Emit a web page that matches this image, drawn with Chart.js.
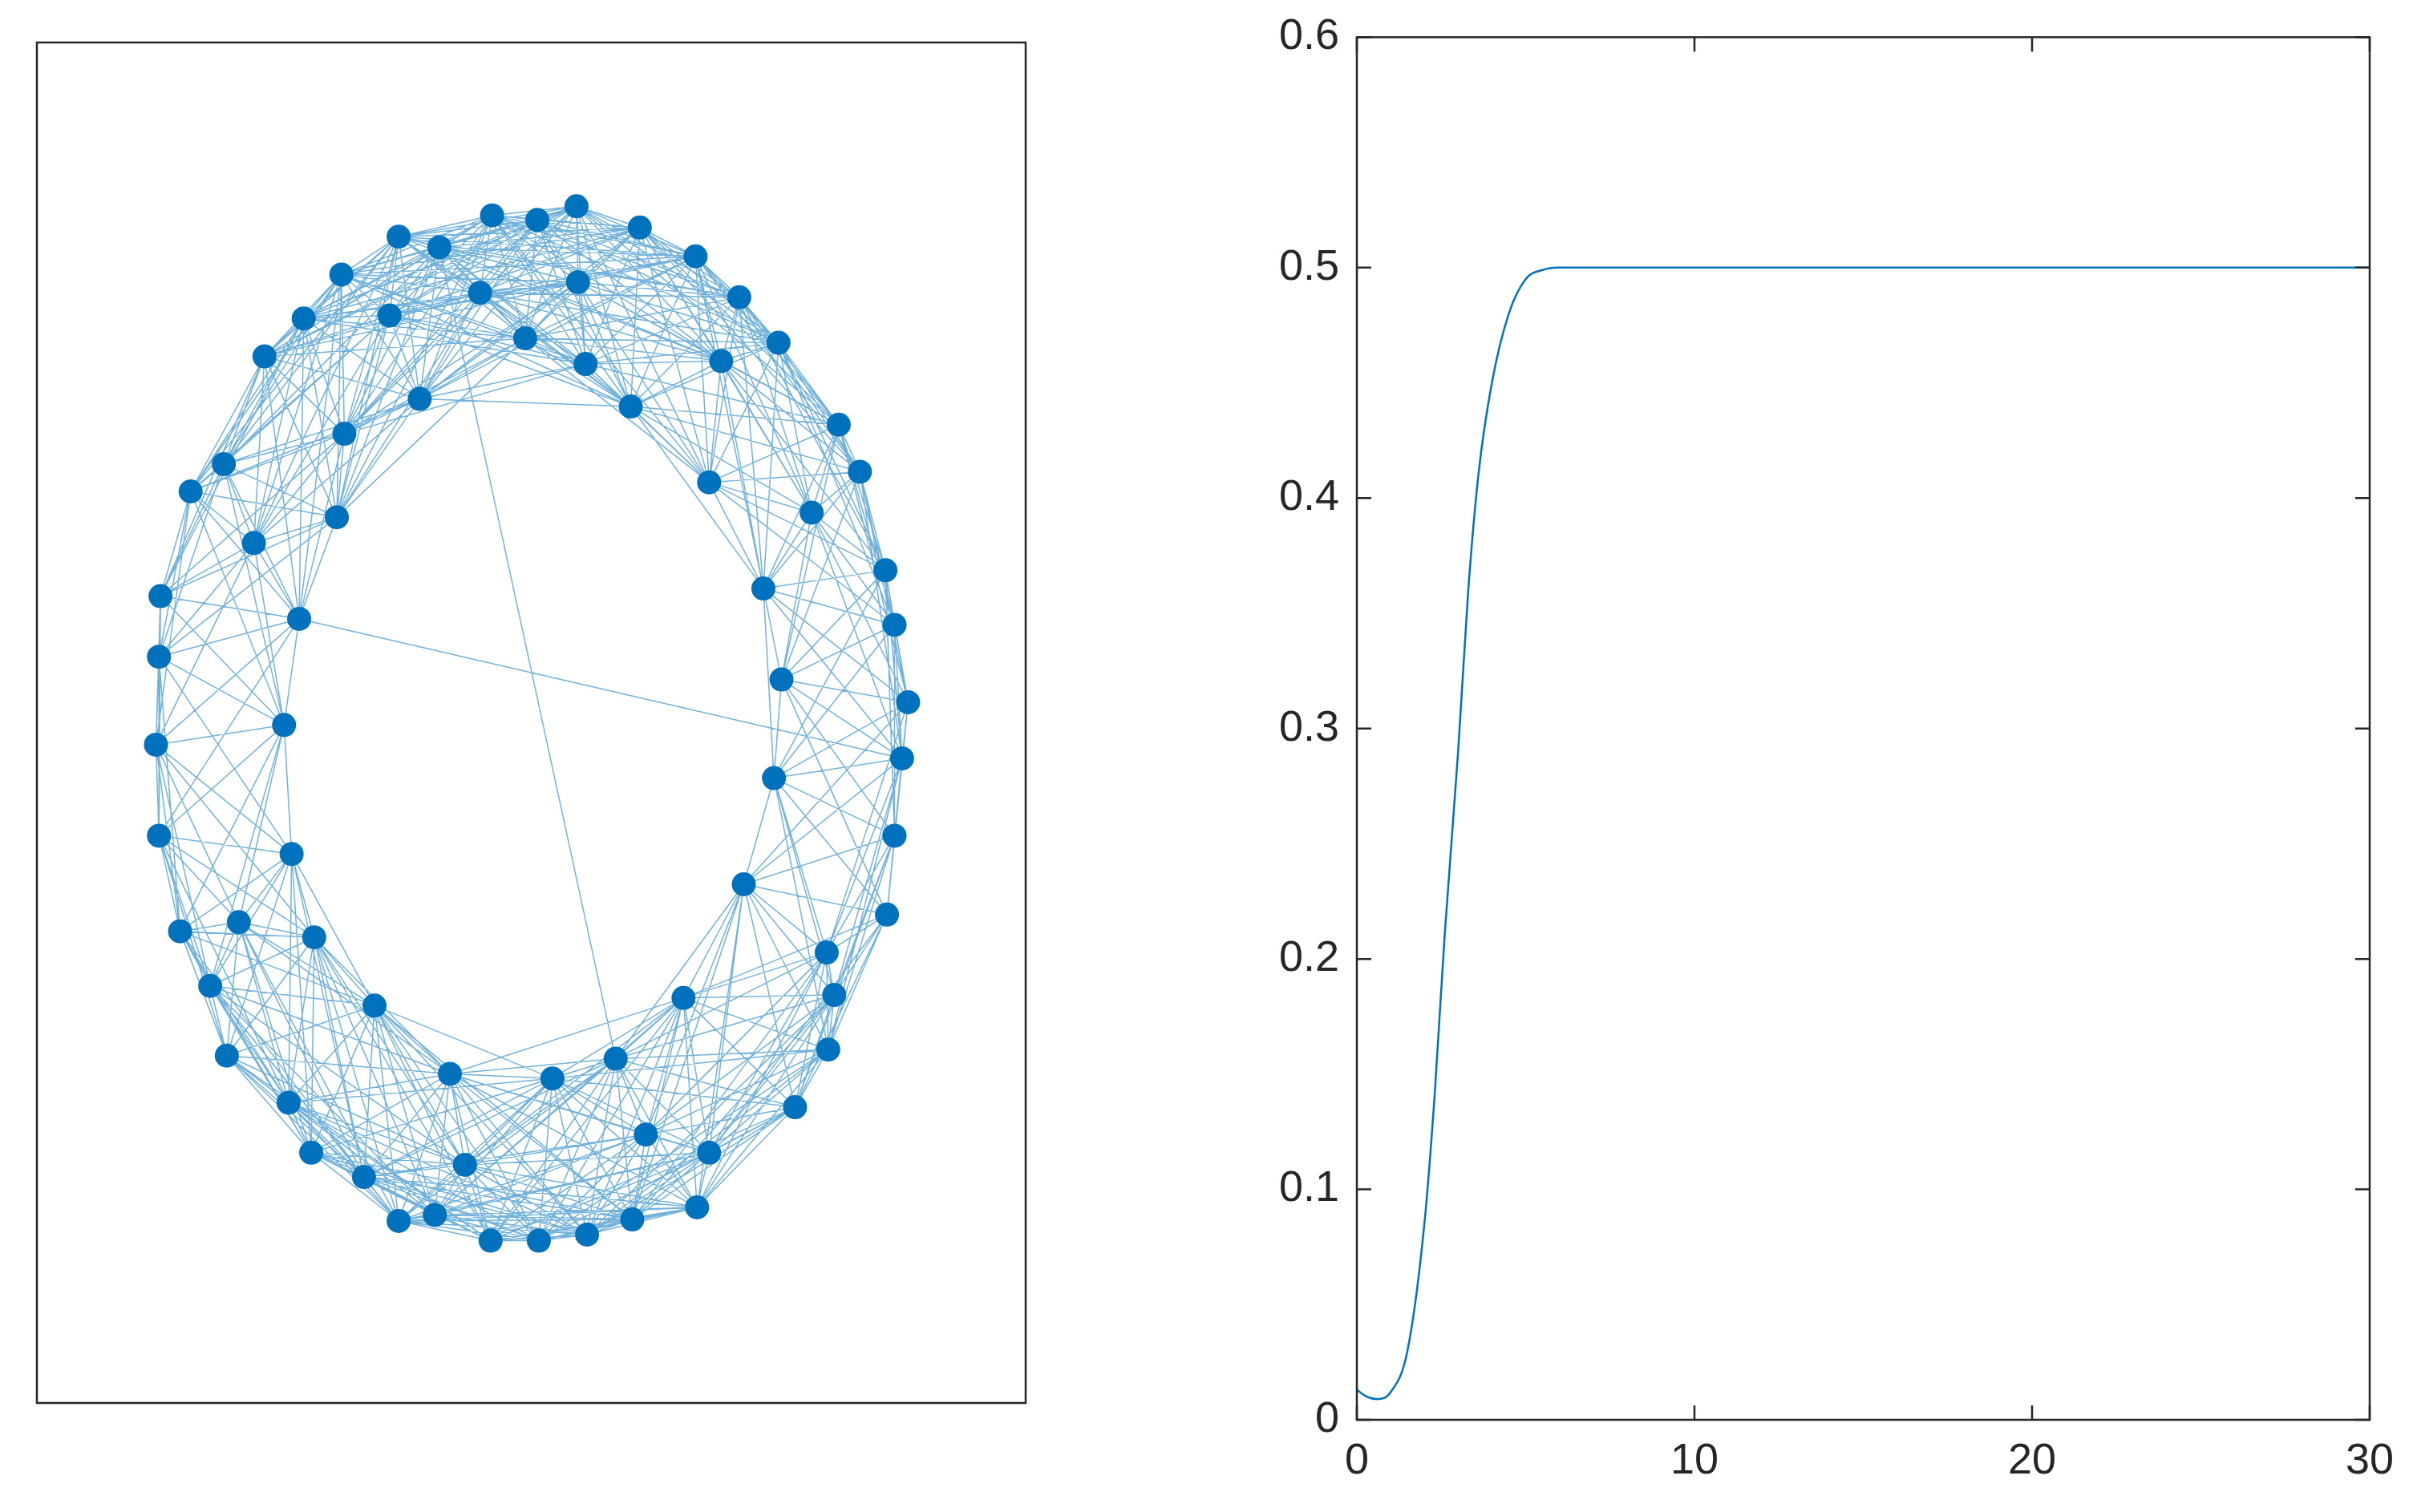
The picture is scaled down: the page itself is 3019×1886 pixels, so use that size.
<!DOCTYPE html>
<html>
<head>
<meta charset="utf-8">
<script src="https://cdn.jsdelivr.net/npm/chart.js@4.4.1/dist/chart.umd.min.js"></script>
<style>
  body { margin: 0; background: #fff; width: 3019px; height: 1886px; overflow: hidden; }
  .box { position: absolute; }
</style>
</head>
<body>
<div class="box" style="left:31px;top:38px;width:1263px;height:1727px"><canvas id="graphChart"></canvas></div>
<div class="box" style="left:1560px;top:0;width:1459px;height:1886px"><canvas id="lineChart"></canvas></div>
<script>
// node positions (image units, y grows downward)
const outerX = [374,348,318,283,256,218,193,167,140,118,98,97,95,97,111,131,142,183,198,233,256,280,317,349,381,411,454,462,519,541,545,580,585,590,594,585,579,562,548,508,482,453,416];
const outerY = [128,137,134,155,148,173,202,227,298,316,385,425,483,543,606,642,688,719,752,768,797,793,810,810,806,796,788,752,722,684,648,595,543,492,455,404,368,303,272,218,188,161,142];
const innerX = [310,340,375,270,220,215,190,180,185,200,240,290,358,400,445,485,505,510,498,462,410,380,250,160,150,530,540,300,420,470];
const innerY = [185,215,178,255,278,333,400,470,555,610,655,700,703,690,650,575,505,440,380,310,260,232,200,350,600,330,620,760,740,230];
// a few long edges crossing the hole
const shortcutEdges = [[3,56],[18,53],[45,62],[10,48],[33,49]];

// time series of the right panel
const tValues = [0,0.3,0.6,1,1.5,2,2.3,2.6,3,3.3,3.6,4,4.5,5,5.5,6,10,20,30];
const yValues = [0.013,0.010,0.009,0.012,0.03,0.085,0.14,0.21,0.29,0.36,0.41,0.45,0.48,0.495,0.499,0.5,0.5,0.5,0.5];
const xTicks = [0,10,20,30];
const yTicks = [0,0.1,0.2,0.3,0.4,0.5,0.6];

const blue = '#0072BD';
const font = { family: '"Liberation Sans", Arial, sans-serif', size: 54 };

const nodes = outerX.map((x, i) => ({ x, y: outerY[i] }))
  .concat(innerX.map((x, i) => ({ x, y: innerY[i] })));

// edges: nodes linked to neighbours around the ring
const cx = 345, cy = 470;
const ang = nodes.map(n => Math.atan2(n.y - cy, n.x - cx));
const gap = { x: NaN, y: NaN };
const edgePts = [];
for (let i = 0; i < nodes.length; i++) {
  for (let j = i + 1; j < nodes.length; j++) {
    let d = Math.abs(ang[i] - ang[j]);
    if (d > Math.PI) d = 2 * Math.PI - d;
    if (d < 0.75) edgePts.push(nodes[i], nodes[j], gap);
  }
}
shortcutEdges.forEach(([a, b]) => edgePts.push(nodes[a], nodes[b], gap));

const boxPlugin = {
  id: 'box',
  afterDraw(chart) {
    const { ctx, chartArea: a } = chart;
    ctx.save();
    ctx.strokeStyle = '#262626';
    ctx.lineWidth = 2.5;
    ctx.strokeRect(a.left, a.top, a.right - a.left, a.bottom - a.top);
    if (chart.options.plugins.box.ticks) {
      const L = 18;
      ctx.beginPath();
      chart.scales.x.ticks.forEach(t => {
        const px = chart.scales.x.getPixelForValue(t.value);
        ctx.moveTo(px, a.bottom); ctx.lineTo(px, a.bottom - L);
        ctx.moveTo(px, a.top); ctx.lineTo(px, a.top + L);
      });
      chart.scales.y.ticks.forEach(t => {
        const py = chart.scales.y.getPixelForValue(t.value);
        ctx.moveTo(a.left, py); ctx.lineTo(a.left + L, py);
        ctx.moveTo(a.right, py); ctx.lineTo(a.right - L, py);
      });
      ctx.stroke();
    }
    ctx.restore();
  }
};

new Chart(document.getElementById('graphChart'), {
  type: 'scatter',
  data: {
    datasets: [
      { data: edgePts, showLine: true, spanGaps: false, borderColor: 'rgba(0,114,189,0.55)', borderWidth: 1.5, pointRadius: 0 },
      { data: nodes, pointRadius: 15, pointBackgroundColor: blue, pointBorderWidth: 0 }
    ]
  },
  options: {
    animation: false, responsive: true, maintainAspectRatio: false,
    layout: { padding: 0 },
    plugins: { legend: { display: false }, tooltip: { enabled: false }, box: { ticks: false } },
    scales: {
      x: { type: 'linear', min: 16, max: 672, display: false },
      y: { type: 'linear', min: 20, max: 917, reverse: true, display: false }
    }
  },
  plugins: [boxPlugin]
});

new Chart(document.getElementById('lineChart'), {
  type: 'scatter',
  data: {
    datasets: [{
      data: tValues.map((t, i) => ({ x: t, y: yValues[i] })),
      showLine: true, borderColor: blue, borderWidth: 2.5, pointRadius: 0,
      cubicInterpolationMode: 'monotone'
    }]
  },
  options: {
    animation: false, responsive: true, maintainAspectRatio: false,
    layout: { padding: { top: 38, right: 64, left: 0, bottom: 0 } },
    plugins: { legend: { display: false }, tooltip: { enabled: false }, box: { ticks: true } },
    scales: {
      x: {
        type: 'linear', min: 0, max: 30,
        afterBuildTicks: s => { s.ticks = xTicks.map(v => ({ value: v })); },
        afterFit: s => { s.height = 115; },
        grid: { display: false }, border: { display: false },
        ticks: { font, color: '#262626', padding: 12, maxRotation: 0 }
      },
      y: {
        min: 0, max: 0.6,
        afterBuildTicks: s => { s.ticks = yTicks.map(v => ({ value: v })); },
        afterFit: s => { s.width = 132; },
        grid: { display: false }, border: { display: false },
        ticks: { font, color: '#262626', padding: 14, callback: v => v === 0 ? '0' : v.toFixed(1) }
      }
    }
  },
  plugins: [boxPlugin]
});
</script>
</body>
</html>
